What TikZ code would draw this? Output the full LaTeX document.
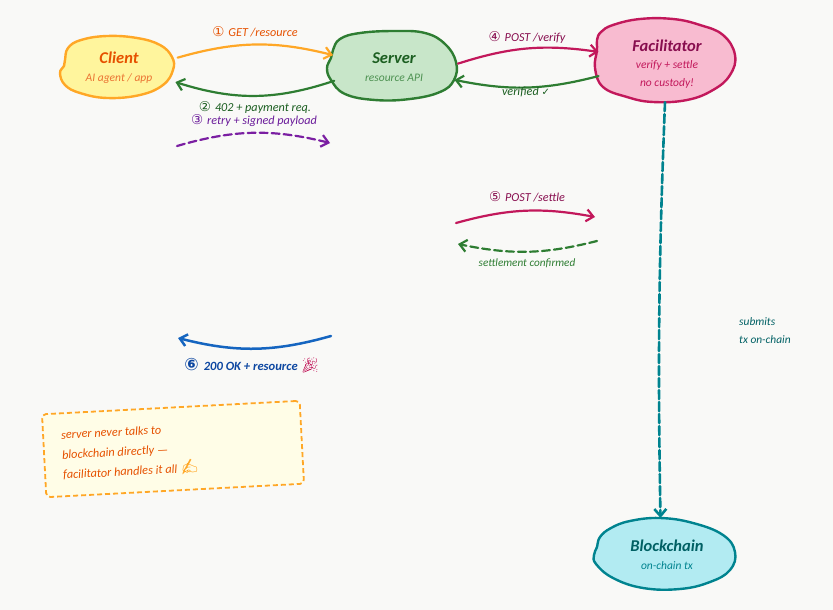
\documentclass[tikz,border=0pt]{standalone}
\usepackage{fontspec}
\setmainfont{Carlito}
\newfontfamily\symfont{DejaVu Sans}
\newfontfamily\emojifont{Noto Emoji}
\usetikzlibrary{arrows.meta,shapes.geometric}

\definecolor{paper}{HTML}{F9F9F7}
\definecolor{clientfill}{HTML}{FFF59D}
\definecolor{clientline}{HTML}{FFA726}
\definecolor{clienttext}{HTML}{E65100}
\definecolor{serverfill}{HTML}{C8E6C9}
\definecolor{serverline}{HTML}{2E7D32}
\definecolor{servertext}{HTML}{1B5E20}
\definecolor{facilfill}{HTML}{F8BBD0}
\definecolor{facilline}{HTML}{C2185B}
\definecolor{faciltext}{HTML}{880E4F}
\definecolor{chainfill}{HTML}{B2EBF2}
\definecolor{chainline}{HTML}{00838F}
\definecolor{chaintext}{HTML}{006064}
\definecolor{retryline}{HTML}{7B1FA2}
\definecolor{retrytext}{HTML}{6A1B9A}
\definecolor{okline}{HTML}{1565C0}
\definecolor{oktext}{HTML}{0D47A1}
\definecolor{notefill}{HTML}{FFFDE7}

\newcommand{\num}[1]{{\symfont\fontsize{13.5}{13}\selectfont #1}\hspace{4pt}}
\newcommand{\headline}[1]{{\fontsize{16.5}{22}\selectfont\bfseries\itshape #1}}

\begin{document}
\begin{tikzpicture}[x=1pt,y=-1pt,>={Straight Barb[length=7pt,width=12pt]},
  blob line/.style={line width=2.4pt,line join=round},
  main node/.style={ellipse,inner sep=0pt,align=center,font=\fontsize{11.5}{15}\selectfont\itshape},
  flow/.style={->,line width=2.2pt,line cap=round},
  flow label/.style={inner sep=0pt,font=\fontsize{12.2}{15}\selectfont\itshape}]
  \useasboundingbox[fill=paper] (0,0) rectangle (833,610);

  % blobs first, text on top
  \draw[blob line,draw=clientline,fill=clientfill] plot[smooth cycle,tension=.7] coordinates
    {(65,60) (68,48) (81,40) (107,36) (137,38) (160,45) (172,57) (173,70) (163,85)
     (140,95) (107,98) (80,93) (65,85) (60,73) (64,66)};
  \draw[blob line,draw=serverline,fill=serverfill] plot[smooth cycle,tension=.7] coordinates
    {(333,50) (340,39) (360,33) (395,31) (425,33) (445,44) (456,62) (454,80) (440,92)
     (410,99) (375,100) (345,94) (331,80) (327,68) (331,58)};
  \draw[blob line,draw=facilline,fill=facilfill] plot[smooth cycle,tension=.7] coordinates
    {(597,40) (601,32) (613,25) (640,19) (673,19) (700,25) (723,35) (735,55) (730,75)
     (713,90) (687,100) (653,102) (627,97) (603,87) (595,68) (597,50)};
  \draw[blob line,draw=chainline,fill=chainfill] plot[smooth cycle,tension=.7] coordinates
    {(597,547) (600,537) (611,528) (630,521) (660,518) (693,523) (723,535) (735,552)
     (730,570) (710,582) (680,589) (643,588) (613,578) (596,564) (594,555)};

  \node[main node,minimum width=122pt,minimum height=72pt,text=clienttext] (client) at (119,68)
    {\headline{Client}\\[3pt]{\color{clienttext!80}AI agent / app}};
  \node[main node,minimum width=128pt,minimum height=76pt,text=servertext] (server) at (394,67)
    {\headline{Server}\\[3pt]{\color{serverline!85}resource API}};
  \node[main node,minimum width=144pt,minimum height=76pt,text=faciltext] (facilitator) at (667,64)
    {\headline{Facilitator}\\[2pt]{\color{facilline}verify + settle}\\[3pt]{\color{facilline}no custody!}};
  \node[main node,minimum width=140pt,minimum height=74pt,text=chaintext] (blockchain) at (667,555)
    {\headline{Blockchain}\\[3pt]{\color{chainline}on-chain tx}};

  \coordinate (retry from) at (177,146);
  \coordinate (retry to) at (330,143);
  \coordinate (settle from) at (456,223);
  \coordinate (settle to) at (595,217);
  \coordinate (done from) at (597,241);
  \coordinate (done to) at (458,244);
  \coordinate (ok from) at (331,336);
  \coordinate (ok to) at (178,338);

  \draw[flow,clientline] (client.10) to[bend left=15] (server.169);
  \draw[flow,serverline] (server.193) to[bend left=18] (client.346);
  \draw[flow,retryline,dashed,dash pattern=on 8pt off 4pt] (retry from) to[bend left=15] (retry to);
  \draw[flow,facilline] (server.3) to[bend left=13] (facilitator.170);
  \draw[flow,serverline] (facilitator.190) to[bend left=13] (server.348);
  \draw[flow,facilline] (settle from) to[bend left=13] (settle to);
  \draw[flow,serverline,dashed,dash pattern=on 8pt off 4pt] (done from) to[bend left=13] (done to);
  \draw[flow,okline,line width=2.5pt] (ok from) to[bend left=15] (ok to);
  \draw[flow,chainline,line width=2.6pt,dashed,dash pattern=on 9pt off 3pt] (facilitator.267) to[bend right=1.6] (blockchain.100);

  \node[flow label,text=clienttext] (get) at (255,32) {\num{①}GET /resource};
  \node[flow label,text=servertext] (payreq) at (255,107) {\num{②}402 + payment req.};
  \node[flow label,text=retrytext] (signed) at (254,121) {\num{③}retry + signed payload};
  \node[flow label,text=faciltext] (verify) at (527,37) {\num{④}POST /verify};
  \node[flow label,text=servertext] (verified) at (526,92) {verified {\symfont\fontsize{10}{10}\selectfont ✓}};
  \node[flow label,text=faciltext] (settle) at (527,197) {\num{⑤}POST /settle};
  \node[flow label,text=serverline,font=\fontsize{11.2}{15}\selectfont\itshape] (confirmed) at (527,263) {settlement confirmed};
  \node[flow label,text=oktext,font=\fontsize{12.6}{15}\selectfont\itshape\bfseries] (okres) at (252,365)
    {{\symfont\fontsize{17}{17}\selectfont\bfseries ⑥}\hspace{5pt}200 OK + resource {\emojifont\fontsize{15}{15}\selectfont\color{facilline}🎉}};
  \node[flow label,text=chaintext,anchor=west,align=left,font=\fontsize{11.4}{18}\selectfont\itshape] (submits) at (739,331)
    {submits\\tx on-chain};

  \node[rotate=3,draw=clientline,fill=notefill,line width=1.8pt,dashed,dash pattern=on 5pt off 3pt,
    rounded corners=4pt,minimum width=258pt,minimum height=83pt,inner sep=0pt] (note) at (173,449) {};
  \node[rotate=3,anchor=west,align=left,inner sep=0pt,text=clienttext,
    font=\fontsize{12.3}{20}\selectfont\itshape] (notetext) at (62,456)
    {server never talks to\\blockchain directly ---\\facilitator handles it all {\emojifont\fontsize{15}{15}\selectfont\color{clientline}✍}};
\end{tikzpicture}
\end{document}
